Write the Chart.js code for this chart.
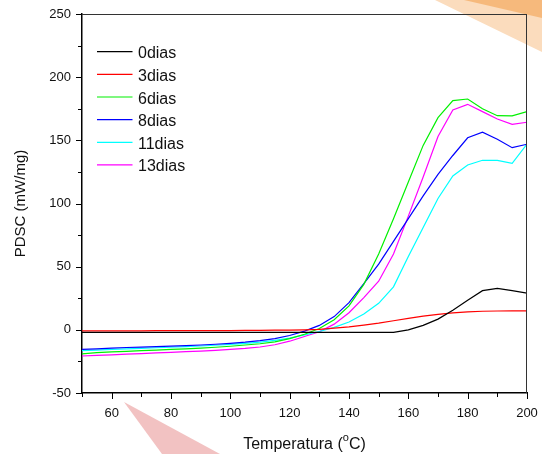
<!DOCTYPE html>
<html>
<head>
<meta charset="utf-8">
<script src="https://cdn.jsdelivr.net/npm/chart.js@4/dist/chart.umd.min.js"></script>
<style>
  html, body { margin: 0; padding: 0; background: #ffffff; }
  #wrap { width: 542px; height: 454px; }
</style>
</head>
<body>
<div id="wrap"><canvas id="c" width="542" height="454"></canvas></div>
<script>
// Temperature (°C), sampled every 5 degrees
const temperatures = [50, 55, 60, 65, 70, 75, 80, 85, 90, 95, 100, 105, 110, 115, 120, 125,
                      130, 135, 140, 145, 150, 155, 160, 165, 170, 175, 180, 185, 190, 195, 200];

// PDSC heat flow (mW/mg) per storage time
const dias0 = [-2, -2, -2, -2, -2, -2, -2, -2, -2, -2, -2, -2, -2, -2, -2, -2,
               -2, -2, -2, -2, -2, -2, 0, 3.5, 8.5, 15.5, 23.5, 31, 32.8, 31, 29];
const dias3 = [-0.8, -0.8, -0.8, -0.8, -0.8, -0.7, -0.7, -0.7, -0.6, -0.6, -0.6, -0.5, -0.4, -0.3, -0.2, 0,
               0.4, 1.3, 2.3, 3.7, 5.3, 7.2, 9.1, 10.9, 12.3, 13.4, 14.2, 14.7, 14.9, 15, 15];
const dias6 = [-19, -18, -17.5, -17, -16.5, -16, -15.5, -15, -14.5, -13.8, -13, -12, -11, -9.5, -7, -3.5,
               1, 8, 19, 36, 60, 88, 117, 146, 168, 181.4, 182.7, 175, 169.5, 169.3, 172.7];
const dias8 = [-15.5, -15, -14.5, -14, -13.7, -13.3, -12.9, -12.5, -12, -11.4, -10.7, -9.8, -8.6, -7, -4.5, -1,
               3.5, 10.5, 21.5, 36.5, 52, 70, 88, 106, 123, 138, 152, 156.4, 150.8, 144.2, 146.9];
const dias11 = [-16.5, -16, -15.5, -15, -14.6, -14.2, -13.8, -13.3, -12.8, -12.2, -11.5, -10.7, -9.7, -8.4, -6.5, -4,
                -1.3, 2, 6.2, 12.5, 21, 34, 58, 81, 104, 121.8, 130.5, 134.2, 134.2, 131.8, 147];
const dias13 = [-20.7, -20.2, -19.8, -19.3, -18.8, -18.3, -17.8, -17.3, -16.8, -16.2, -15.5, -14.7, -13.6, -11.8, -9, -5.3,
                -1.5, 4.5, 13.5, 25.5, 38.5, 60, 90, 121, 153, 174, 178.5, 172.7, 166.9, 162.7, 164.3];

const seriesLabels = ['0dias', '3dias', '6dias', '8dias', '11dias', '13dias'];
const seriesValues = [dias0, dias3, dias6, dias8, dias11, dias13];
const seriesColors = ['#000000', '#ff0000', '#00f000', '#0000ff', '#00ffff', '#ff00ff'];

const FONT = '"Liberation Sans", Arial, sans-serif';

const datasets = seriesLabels.map((label, i) => ({
  label,
  data: temperatures.map((t, k) => ({ x: t, y: seriesValues[i][k] })),
  borderColor: seriesColors[i],
  backgroundColor: seriesColors[i],
  borderWidth: 1.2,
  pointRadius: 0,
  tension: 0,
  fill: false
}));

// Soft background shapes behind the plot
const backdrop = {
  id: 'backdrop',
  beforeDraw(chart) {
    const ctx = chart.ctx;
    ctx.save();
    ctx.fillStyle = '#ffffff';
    ctx.fillRect(0, 0, chart.width, chart.height);
    ctx.fillStyle = '#fbdcbd';
    ctx.beginPath();
    ctx.moveTo(435, 0); ctx.lineTo(542, 0); ctx.lineTo(542, 52); ctx.closePath();
    ctx.fill();
    ctx.fillStyle = '#f6b97c';
    ctx.beginPath();
    ctx.moveTo(464, 0); ctx.lineTo(542, 0); ctx.lineTo(542, 18); ctx.closePath();
    ctx.fill();
    ctx.fillStyle = '#f2c2c2';
    ctx.beginPath();
    ctx.moveTo(124, 402); ctx.lineTo(220, 454); ctx.lineTo(162, 454); ctx.closePath();
    ctx.fill();
    ctx.restore();
  }
};

// Frame, tick marks, legend and axis titles
const decorations = {
  id: 'decorations',
  afterDraw(chart) {
    const ctx = chart.ctx;
    const a = chart.chartArea;
    const xs = chart.scales.x, ys = chart.scales.y;
    ctx.save();

    // top and right frame
    ctx.strokeStyle = '#333333';
    ctx.lineWidth = 1;
    ctx.beginPath();
    ctx.moveTo(a.left, a.top + 0.5); ctx.lineTo(a.right, a.top + 0.5);
    ctx.moveTo(a.right - 0.5, a.top); ctx.lineTo(a.right - 0.5, a.bottom);
    ctx.stroke();

    // tick marks
    ctx.strokeStyle = '#000000';
    ctx.beginPath();
    for (let v = -50; v <= 250; v += 25) {
      const y = Math.round(ys.getPixelForValue(v)) + 0.5;
      const len = (v % 50 === 0) ? 6 : 4;
      ctx.moveTo(a.left, y); ctx.lineTo(a.left - len, y);
    }
    for (let t = 50; t <= 200; t += 10) {
      const x = Math.round(xs.getPixelForValue(t)) + 0.5;
      const len = (t % 20 === 0) ? 6 : 4;
      ctx.moveTo(x, a.bottom); ctx.lineTo(x, a.bottom + len);
    }
    ctx.stroke();

    // legend
    ctx.font = '16px ' + FONT;
    ctx.textBaseline = 'alphabetic';
    ctx.textAlign = 'left';
    chart.data.datasets.forEach((ds, i) => {
      const y = 51.7 + i * 22.65;
      ctx.strokeStyle = ds.borderColor;
      ctx.lineWidth = 1.2;
      ctx.beginPath();
      ctx.moveTo(97, y); ctx.lineTo(132.5, y);
      ctx.stroke();
      ctx.fillStyle = '#111111';
      ctx.fillText(ds.label, 138, y + 6.5);
    });

    // y title
    ctx.save();
    ctx.translate(21, (a.top + a.bottom) / 2);
    ctx.rotate(-Math.PI / 2);
    ctx.font = '15px ' + FONT;
    ctx.textAlign = 'center';
    ctx.textBaseline = 'middle';
    ctx.fillStyle = '#111111';
    ctx.fillText('PDSC (mW/mg)', 0, 0);
    ctx.restore();

    // x title with superscript degree "o"
    const main = '16px ' + FONT, sup = '11px ' + FONT;
    const p1 = 'Temperatura (', p2 = 'o', p3 = 'C)';
    ctx.font = main; const w1 = ctx.measureText(p1).width, w3 = ctx.measureText(p3).width;
    ctx.font = sup; const w2 = ctx.measureText(p2).width;
    let x0 = (a.left + a.right) / 2 - (w1 + w2 + w3) / 2;
    const base = 449;
    ctx.fillStyle = '#111111';
    ctx.textAlign = 'left';
    ctx.textBaseline = 'alphabetic';
    ctx.font = main; ctx.fillText(p1, x0, base);
    ctx.font = sup; ctx.fillText(p2, x0 + w1, base - 8);
    ctx.font = main; ctx.fillText(p3, x0 + w1 + w2, base);
    ctx.restore();
  }
};

// Fixed axis box sizes, without extra room for overhanging tick labels
function fixBox(size, key) {
  return s => {
    s[key] = size;
    s.paddingTop = 0; s.paddingBottom = 0; s.paddingLeft = 0; s.paddingRight = 0;
  };
}

new Chart(document.getElementById('c'), {
  type: 'line',
  data: { datasets },
  options: {
    responsive: false,
    animation: false,
    devicePixelRatio: 1,
    layout: { padding: { top: 14, right: 15, left: 0, bottom: 0 } },
    plugins: { legend: { display: false }, tooltip: { enabled: false } },
    scales: {
      x: {
        type: 'linear',
        min: 50, max: 200,
        border: { display: true, color: '#000000', width: 1.5 },
        grid: { display: false, drawTicks: false },
        ticks: {
          stepSize: 10, autoSkip: false, maxRotation: 0, padding: 13,
          color: '#111111', font: { size: 13, family: FONT },
          callback: v => (v % 20 === 0 ? String(v) : '')
        },
        afterFit: fixBox(61, 'height')
      },
      y: {
        min: -50, max: 250,
        border: { display: true, color: '#000000', width: 1.5 },
        grid: { display: false, drawTicks: false },
        ticks: {
          stepSize: 50, padding: 11,
          color: '#111111', font: { size: 13, family: FONT }
        },
        afterFit: fixBox(82, 'width')
      }
    }
  },
  plugins: [backdrop, decorations]
});
</script>
</body>
</html>
